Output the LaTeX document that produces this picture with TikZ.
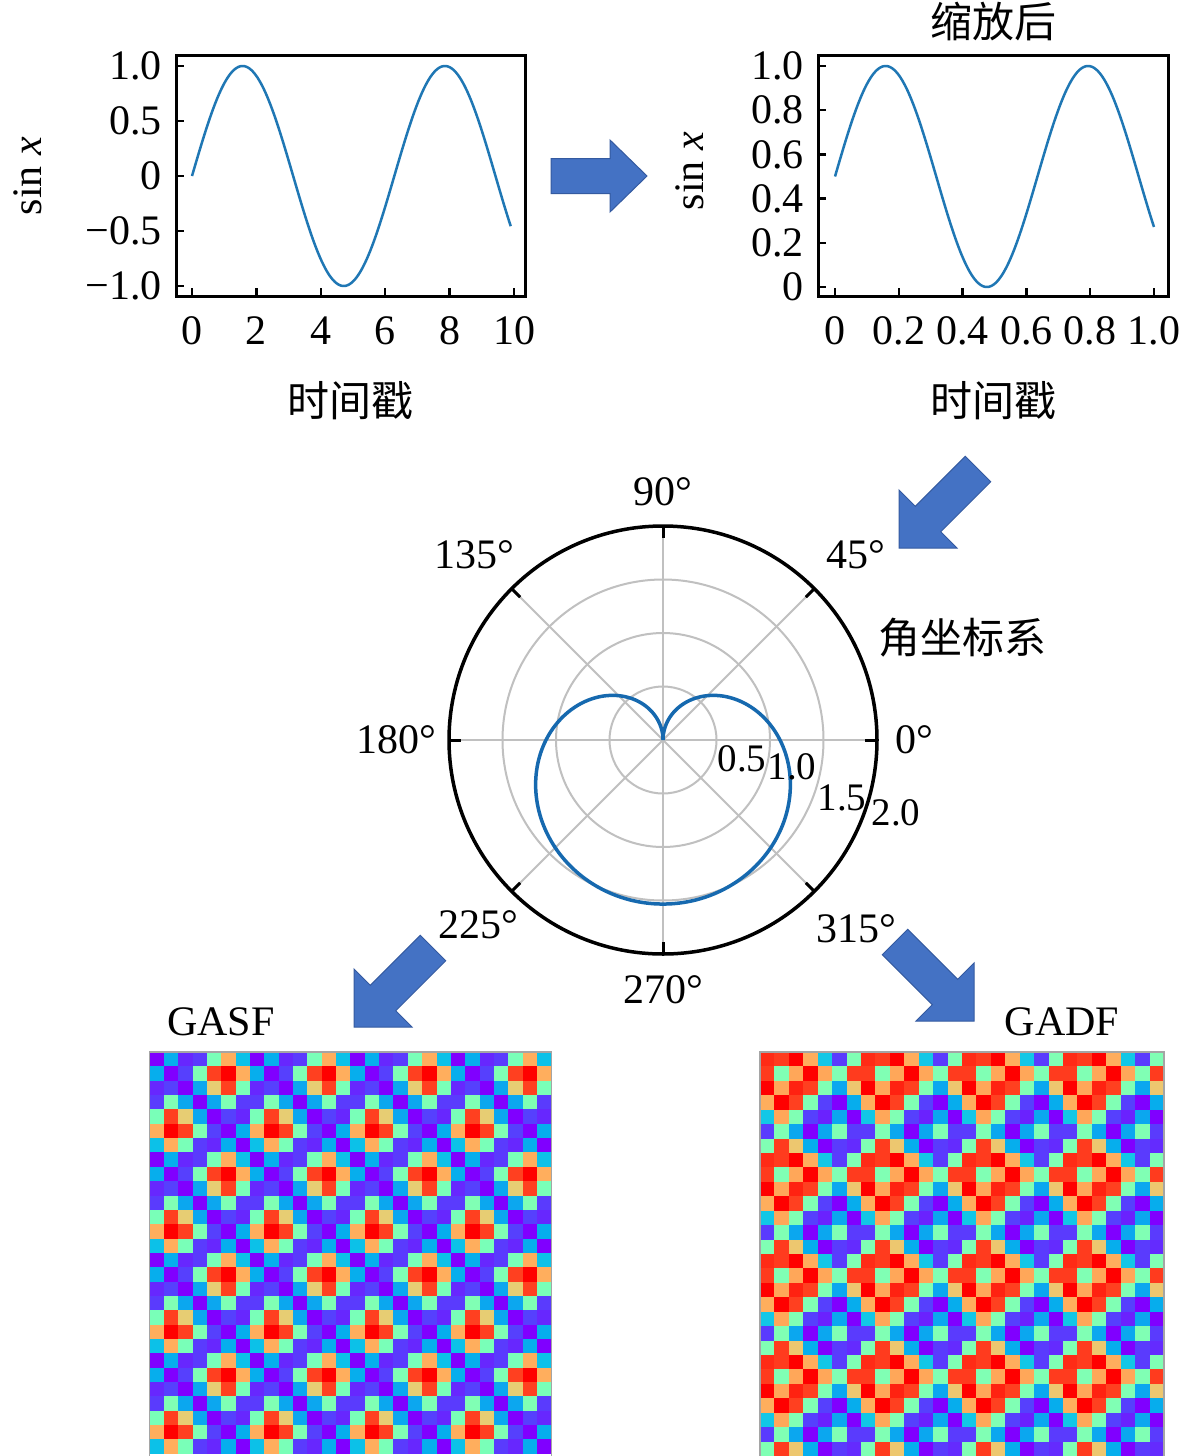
\documentclass[tikz,border=0pt]{standalone}
\usepackage{fontspec}
\setmainfont{Liberation Serif}
\newfontfamily\cjk{Noto Sans CJK SC}
\usetikzlibrary{calc}

\definecolor{arrowblue}{RGB}{68,114,196}
\definecolor{arrowedge}{RGB}{52,90,160}
\definecolor{lineblue}{RGB}{31,119,180}
\definecolor{polblue}{RGB}{22,105,175}
\definecolor{gridgray}{RGB}{192,192,192}
\definecolor{framegray}{RGB}{165,165,165}

\tikzset{
  lab/.style={font=\fontsize{42}{50}\selectfont, inner sep=0pt, text=black},
  rlab/.style={font=\fontsize{39}{46}\selectfont, inner sep=0pt, text=black},
  cjklab/.style={font=\fontsize{42}{50}\selectfont\cjk, inner sep=0pt, text=black},
  axisframe/.style={line width=3pt, black},
  tickmark/.style={line width=2.5pt, black},
  sinecurve/.style={line width=2.5pt, lineblue},
  polgrid/.style={line width=2pt, gridgray},
  barrow/.style={fill=arrowblue, draw=arrowedge, line width=1pt, line join=miter},
}

% tail, tip, head length, half head width, half shaft width
\newcommand{\blockarrow}[5]{%
  \coordinate (ba-b) at ($(#2)!#3!(#1)$);
  \path[barrow] ($(#1)!#5!90:(#2)$) -- ($(ba-b)!#5!90:(#2)$) -- ($(ba-b)!#4!90:(#2)$)
     -- (#2) -- ($(ba-b)!#4!-90:(#2)$) -- ($(ba-b)!#5!-90:(#2)$) -- ($(#1)!#5!-90:(#2)$) -- cycle;
}

% x0, y0, cell width, type (0 = GASF, 1 = GADF)
\newcommand{\gafmatrix}[4]{%
  \foreach \rr in {0,...,27}{%
    \pgfmathsetmacro\qvi{sin(360*(\rr-24)/7)/sin(720/7)}%
    \pgfmathsetmacro\xvi{(\qvi<0 ? -1 : 1)*pow(max(abs(\qvi),0.0001),0.8)}%
    \pgfmathsetmacro\svi{sqrt(max(0,1-\xvi*\xvi))}%
    \foreach \cc in {0,...,27}{%
      \pgfmathsetmacro\qvj{sin(360*(3-\cc)/7)/sin(720/7)}%
      \pgfmathsetmacro\xvj{(\qvj<0 ? -1 : 1)*pow(max(abs(\qvj),0.0001),0.8)}%
      \pgfmathsetmacro\svj{sqrt(max(0,1-\xvj*\xvj))}%
      \ifnum#4=0
        \pgfmathsetmacro\vval{\xvi*\xvj-\svi*\svj}%
      \else
        \pgfmathsetmacro\vval{\svi*\xvj-\xvi*\svj}%
      \fi
      \pgfmathsetmacro\tval{max(0,min(1,(\vval+1)/2))}%
      \pgfmathsetmacro\colR{min(1,abs(2*\tval-0.5))}%
      \pgfmathsetmacro\colG{max(0,min(1,sin(180*\tval)))}%
      \pgfmathsetmacro\colB{max(0,min(1,cos(90*\tval)))}%
      \definecolor{cellc}{rgb}{\colR,\colG,\colB}%
      \fill[cellc] ({#1+\cc*#3},{#2+\rr*#3}) rectangle ++({#3+0.5},{#3+0.5});
    }%
  }%
}

\begin{document}
\begin{tikzpicture}[x=1pt,y=-1pt]
\useasboundingbox (0,0) rectangle (1181,1456);
\fill[white] (0,0) rectangle (1181,1456);

% ---------------- plot 1 ----------------
\draw[sinecurve] plot[domain=0:9.9, samples=200] ({192+32.2*\x},{176-110*sin(\x r)});
\foreach \v/\t [count=\i] in {1/1.0, 0.5/0.5, 0/0, -0.5/−0.5, -1/−1.0}{
  \draw[tickmark] (176,{176-110*\v}) -- ++(8,0);
  \node[lab, anchor=east] (ya\i) at (162,{176-110*\v}) {\t};
}
\foreach \t [count=\i] in {0,2,4,6,8,10}{
  \draw[tickmark] ({192+32.2*\t},296) -- ++(0,-8);
  \node[lab] (xa\i) at ({192+32.2*\t},331) {\t};
}
\draw[axisframe] (176,55) rectangle (525,296);
\node[cjklab] (xla) at (350,401) {时间戳};
\node[lab, rotate=90] (yla) at (28,176) {sin \itshape x};

% ---------------- plot 2 ----------------
\draw[sinecurve] plot[domain=0:9.9, samples=200] ({835+319*\x/9.9},{287-221*(sin(\x r)+1)/2});
\foreach \v/\t [count=\i] in {1/1.0, 0.8/0.8, 0.6/0.6, 0.4/0.4, 0.2/0.2, 0/0}{
  \draw[tickmark] (818,{287-221*\v}) -- ++(8,0);
  \node[lab, anchor=east] (yb\i) at (804,{287-221*\v}) {\t};
}
\foreach \u/\t [count=\i] in {0/0, 0.2/0.2, 0.4/0.4, 0.6/0.6, 0.8/0.8, 1/1.0}{
  \draw[tickmark] ({835+319*\u},296) -- ++(0,-8);
  \node[lab] (xb\i) at ({835+319*\u},331) {\t};
}
\draw[axisframe] (818,55) rectangle (1168,296);
\node[cjklab] (xlb) at (993,401) {时间戳};
\node[cjklab] (title) at (993,22) {缩放后};
\node[lab, rotate=90] (ylb) at (690,171) {sin \itshape x};

% ---------------- polar plot ----------------
\coordinate (pc) at (663,740);
\foreach \rad in {53.5,107,160.5} \draw[polgrid] (pc) circle[radius=\rad];
\foreach \a in {0,45,...,315} \draw[polgrid] (pc) -- ($(pc)+(\a:214)$);
\draw[polblue, line width=3.5pt, line join=round] plot[domain=90:450, samples=241]
  ({663+117*sqrt(max(0,1-sin(\x)))*cos(\x)},{740-116*sqrt(max(0,1-sin(\x)))*sin(\x)});
\draw[line width=3.5pt] (pc) circle[radius=214];
\foreach \a in {0,45,...,315} \draw[line width=3pt] ($(pc)+(\a:214)$) -- ($(pc)+(\a:202)$);

\node[lab] (d90) at (663,492) {90°};
\node[lab] (d45) at (856,555) {45°};
\node[lab] (d135) at (474,555) {135°};
\node[lab] (d180) at (396,740) {180°};
\node[lab] (d0) at (914,740) {0°};
\node[lab] (d225) at (478,925) {225°};
\node[lab] (d270) at (663,990) {270°};
\node[lab] (d315) at (856,929) {315°};
\node[rlab] (r05) at (742,759) {0.5};
\node[rlab] (r10) at (792,767) {1.0};
\node[rlab] (r15) at (842,798) {1.5};
\node[rlab] (r20) at (896,813) {2.0};
\node[cjklab] (polname) at (962,638) {角坐标系};

% ---------------- block arrows ----------------
\coordinate (a1t) at (551,176);  \coordinate (a1p) at (647,176);
\coordinate (a2t) at (978,469);  \coordinate (a2p) at (899,548);
\coordinate (a3t) at (433,948);  \coordinate (a3p) at (354,1027);
\coordinate (a4t) at (895,942);  \coordinate (a4p) at (974,1021);
\blockarrow{a1t}{a1p}{37pt}{36pt}{17.5pt}
\blockarrow{a2t}{a2p}{41pt}{41pt}{18pt}
\blockarrow{a3t}{a3p}{41pt}{41pt}{18pt}
\blockarrow{a4t}{a4p}{41pt}{41pt}{18pt}

% ---------------- GAF matrices ----------------
\node[lab] (gasf) at (221,1022) {GASF};
\node[lab] (gadf) at (1062,1022) {GADF};
\gafmatrix{149.5}{1052}{14.35}{0}
\gafmatrix{760}{1052}{14.43}{1}
\draw[framegray, line width=1.5pt] (149.5,1052) rectangle (551.3,1458);
\draw[framegray, line width=1.5pt] (760,1052) rectangle (1164,1458);
\end{tikzpicture}
\end{document}
